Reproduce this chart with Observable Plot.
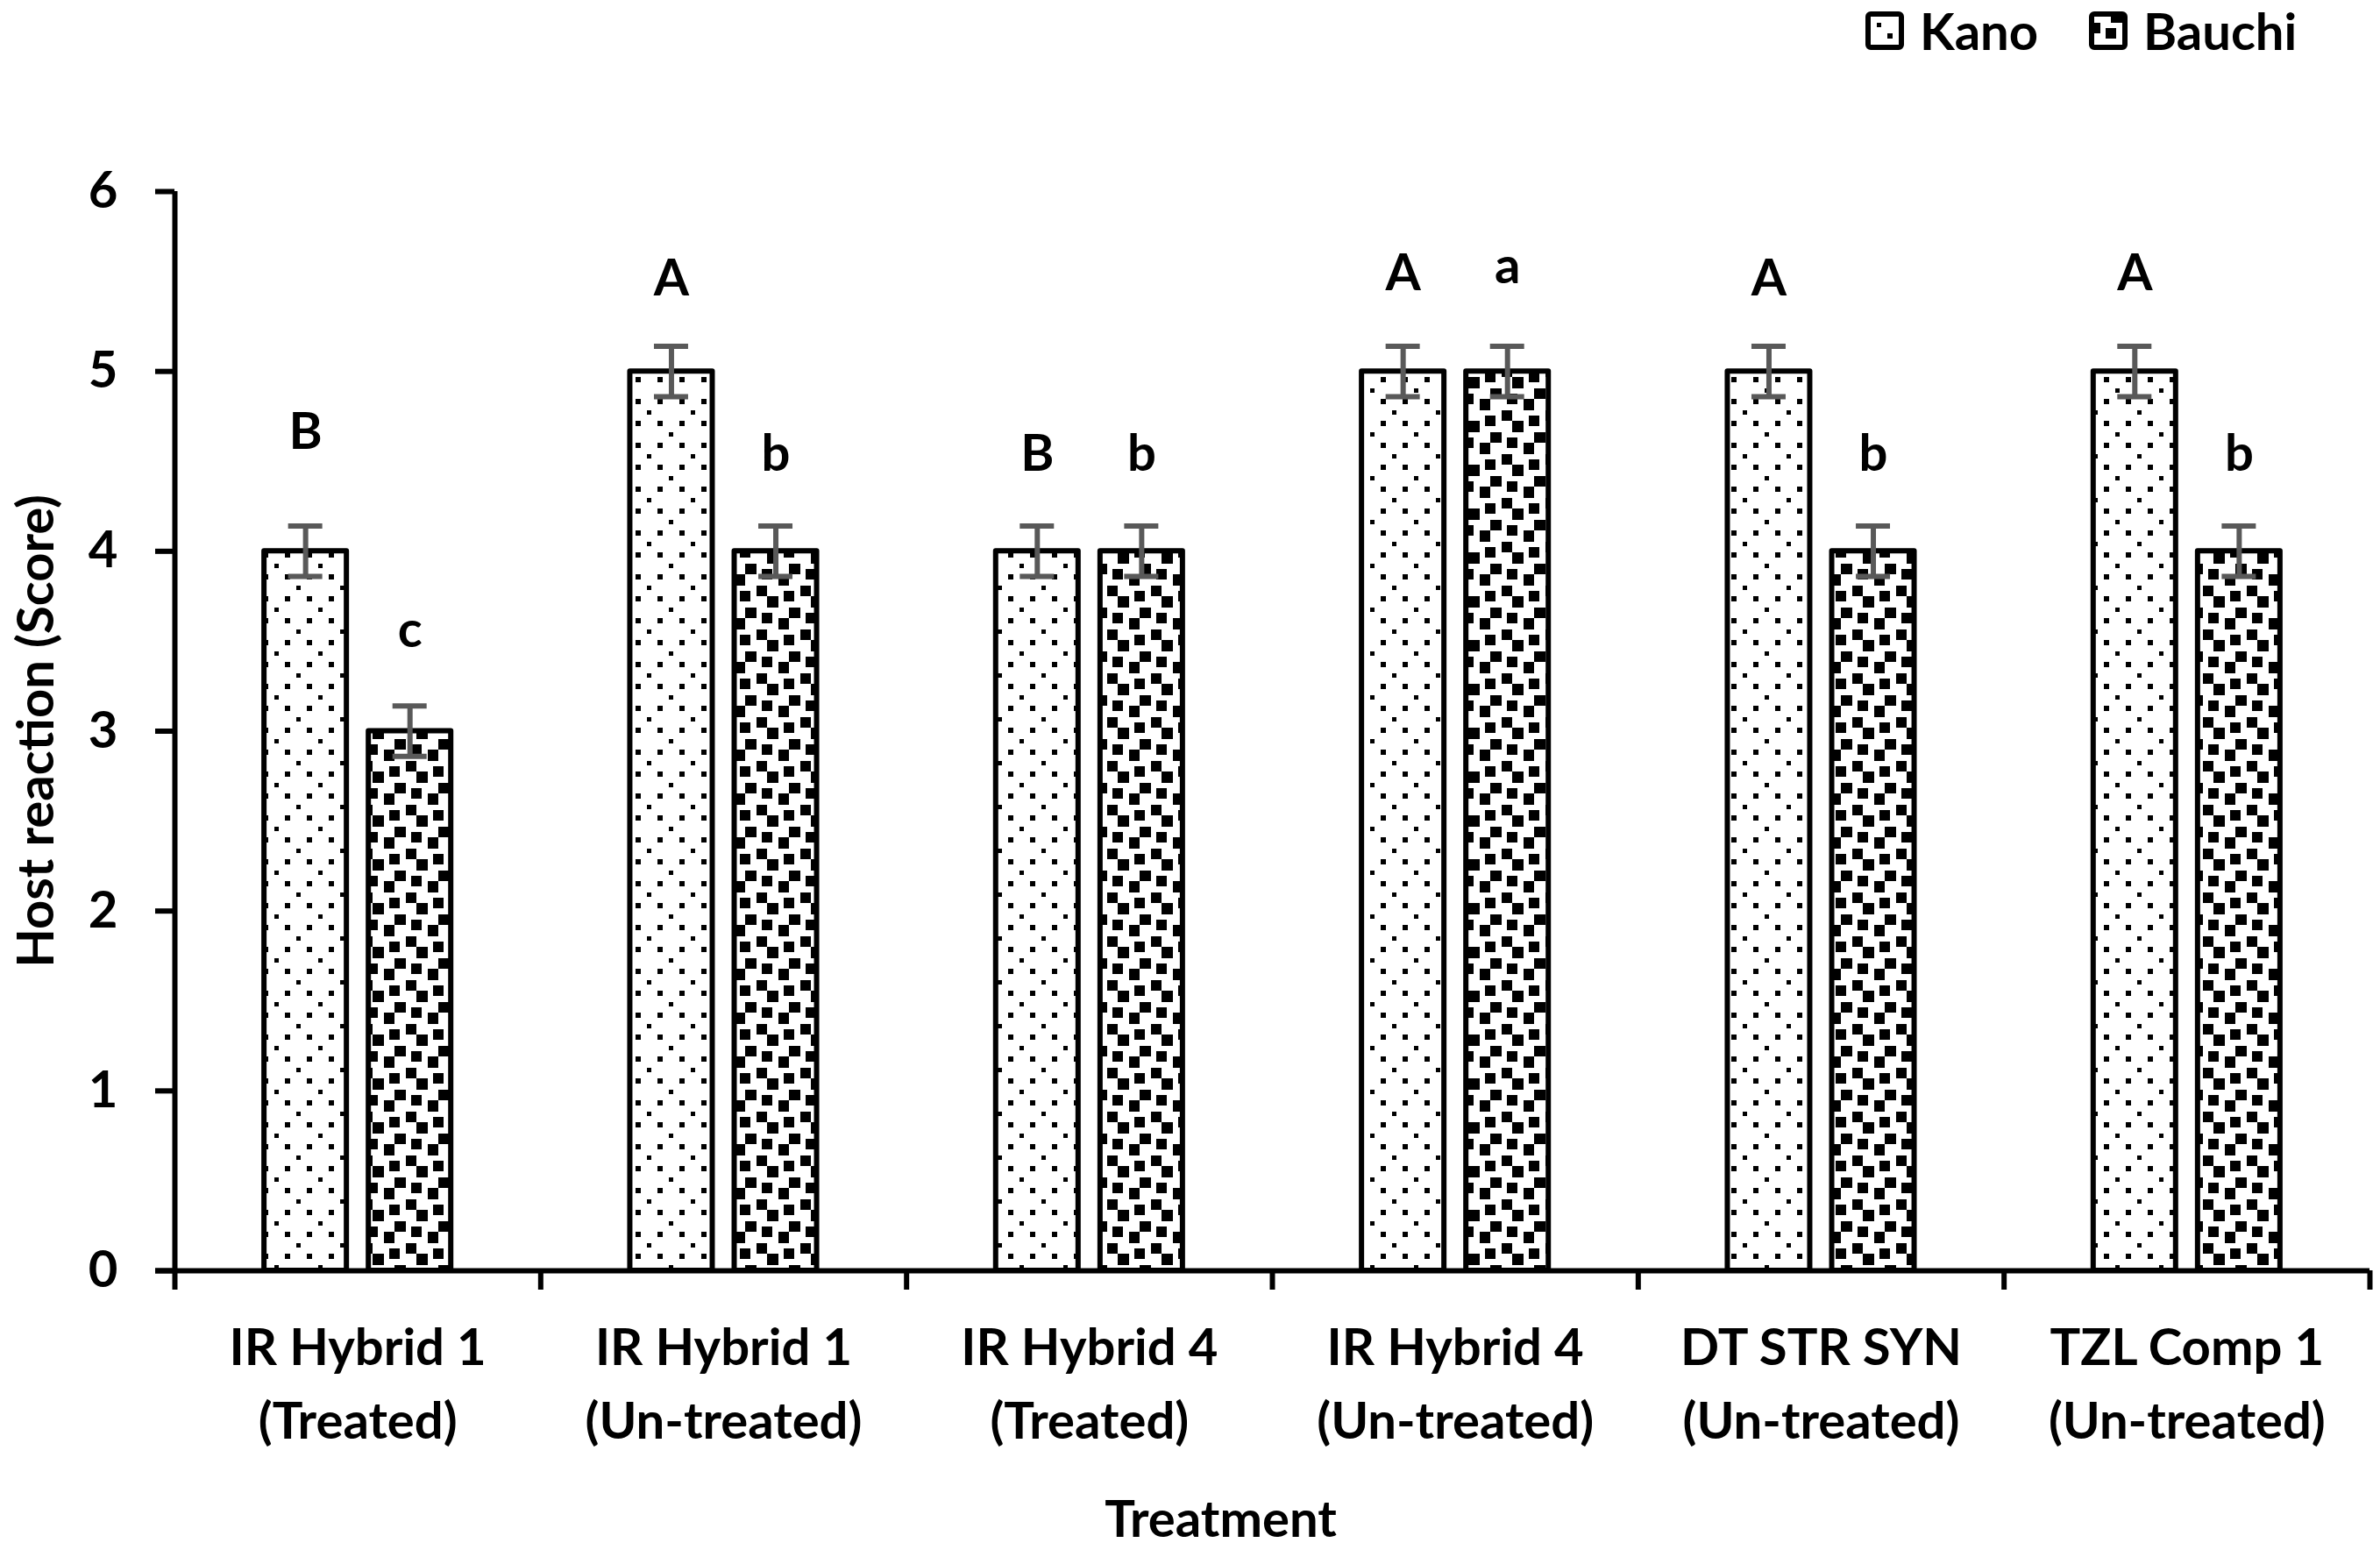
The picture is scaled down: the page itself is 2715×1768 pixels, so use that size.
<!DOCTYPE html>
<html>
<head>
<meta charset="utf-8">
<script src="https://cdn.jsdelivr.net/npm/d3@7"></script>
<script src="https://cdn.jsdelivr.net/npm/@observablehq/plot@0.6"></script>
<style>
  html, body { margin: 0; padding: 0; background: #fff; }
  body { width: 2715px; height: 1768px; overflow: hidden; font-family: Lato, "Open Sans", sans-serif; font-weight: 700; color: #000; }
  #legend { position: relative; height: 80px; }
  .item { position: absolute; top: 0; height: 70px; display: flex; align-items: center; gap: 18px; font-size: 58px; line-height: 1; }
  .item svg { display: block; }
</style>
</head>
<body>
<svg id="patterns" width="0" height="0" style="position:absolute;left:0;top:0"><defs></defs></svg>
<div id="legend"></div>
<div id="chart"></div>
<script>
// ---- data ----
const treatments = [
  "IR Hybrid 1\n(Treated)",
  "IR Hybrid 1\n(Un-treated)",
  "IR Hybrid 4\n(Treated)",
  "IR Hybrid 4\n(Un-treated)",
  "DT STR SYN\n(Un-treated)",
  "TZL Comp 1\n(Un-treated)"
];
const locations = ["Kano", "Bauchi"];
const kanoValues   = [4, 5, 4, 5, 5, 5];
const bauchiValues = [3, 4, 4, 5, 4, 4];
const kanoErrors   = [0.14, 0.14, 0.14, 0.14, 0.14, 0.14];
const bauchiErrors = [0.14, 0.14, 0.14, 0.14, 0.14, 0.14];
const kanoLetters   = ["B", "A", "B", "A", "A", "A"];
const bauchiLetters = ["c", "b", "b", "a", "b", "b"];
// letter baselines, in score units
const kanoLetterY   = [4.57, 5.42, 4.45, 5.45, 5.42, 5.45];
const bauchiLetterY = [3.47, 4.45, 4.45, 5.49, 4.45, 4.45];
const yTicks = [0, 1, 2, 3, 4, 5, 6];
const yTitle = "Host reaction (Score)";
const xTitle = "Treatment";

// ---- styling / layout constants ----
const FONT = 58;
const UNIT = 6.25;
const patternBits = {
  Kano:   [0x88, 0x00, 0x20, 0x00, 0x88, 0x00, 0x02, 0x00],
  Bauchi: [0x8d, 0x0c, 0xc0, 0xd8, 0x1b, 0x03, 0x30, 0xb1]
};
const dotSize = {Kano: 5.5, Bauchi: UNIT};
const GAP = 0.03;      // half gap between paired bars (band units)
const BARW = 0.2253;   // bar width (band units)
const CAP = 0.0467;    // half error cap width (band units)

// ---- patterns ----
const defs = d3.select("#patterns defs");
for (const loc of locations) {
  const p = defs.append("pattern").attr("id", "pat-" + loc)
    .attr("patternUnits", "userSpaceOnUse")
    .attr("width", 8 * UNIT).attr("height", 8 * UNIT);
  p.append("rect").attr("width", 8 * UNIT).attr("height", 8 * UNIT).attr("fill", "#fff");
  patternBits[loc].forEach((b, r) => {
    for (let c = 0; c < 8; c++) if (b & (0x80 >> c)) {
      p.append("rect").attr("x", c * UNIT).attr("y", r * UNIT)
        .attr("width", dotSize[loc]).attr("height", dotSize[loc])
        .attr("fill", "#000").attr("shape-rendering", "crispEdges");
    }
  });
}

// ---- legend ----
const legend = d3.select("#legend");
const legendLeft = {Kano: 2128, Bauchi: 2383};
for (const loc of locations) {
  const it = legend.append("div").attr("class", "item").style("left", legendLeft[loc] + "px");
  const s = it.append("svg").attr("width", 44).attr("height", 44);
  s.append("rect").attr("x", 3).attr("y", 3).attr("width", 38).attr("height", 38).attr("rx", 3)
    .attr("fill", `url(#pat-${loc})`).attr("stroke", "#000").attr("stroke-width", 6);
  it.append("span").text(loc);
}

// ---- rows ----
const rows = [];
treatments.forEach((t, i) => {
  rows.push({i, loc: "Kano", side: -1, value: kanoValues[i], err: kanoErrors[i], letter: kanoLetters[i], ly: kanoLetterY[i]});
  rows.push({i, loc: "Bauchi", side: 1, value: bauchiValues[i], err: bauchiErrors[i], letter: bauchiLetters[i], ly: bauchiLetterY[i]});
});
const inner = d => d.i + 0.5 + d.side * GAP;
const outer = d => d.i + 0.5 + d.side * (GAP + BARW);
const center = d => d.i + 0.5 + d.side * (GAP + BARW / 2);

const chart = Plot.plot({
  width: 2715,
  height: 1688,
  marginLeft: 199,
  marginRight: 12,
  marginTop: 138,
  marginBottom: 319,
  style: {fontFamily: "Lato, 'Open Sans', sans-serif", fontWeight: 700, color: "#000", background: "#fff", overflow: "visible"},
  x: {domain: [0, treatments.length]},
  y: {domain: [0, 6]},
  marks: [
    ...locations.map(loc => Plot.rectY(rows.filter(d => d.loc === loc), {
      x1: inner, x2: outer, y1: 0, y2: "value",
      fill: `url(#pat-${loc})`, stroke: "#000", strokeWidth: 6, strokeLinejoin: "round"
    })),
    Plot.ruleX(rows, {x: center, y1: d => d.value - d.err, y2: d => d.value + d.err, stroke: "#595959", strokeWidth: 6}),
    Plot.ruleY(rows, {y: d => d.value + d.err, x1: d => center(d) - CAP, x2: d => center(d) + CAP, stroke: "#595959", strokeWidth: 6}),
    Plot.ruleY(rows, {y: d => d.value - d.err, x1: d => center(d) - CAP, x2: d => center(d) + CAP, stroke: "#595959", strokeWidth: 6}),
    Plot.text(rows, {x: center, y: "ly", text: "letter", fontSize: FONT, fontWeight: 700, lineAnchor: "middle", dy: -0.32 * FONT, fill: "#000"}),
    Plot.ruleY([0], {stroke: "#000", strokeWidth: 6, insetLeft: -22}),
    Plot.ruleX([0], {stroke: "#000", strokeWidth: 6}),
    Plot.axisY({ticks: yTicks, tickSize: 22, tickPadding: 43, fontSize: FONT, strokeWidth: 6, label: null, tickFormat: d => String(d)}),
    Plot.axisX({ticks: d3.range(0, treatments.length + 1), tickSize: 22, strokeWidth: 6, tickFormat: () => "", label: null}),
    Plot.axisX({ticks: treatments.map((t, i) => i + 0.5), tickSize: 0, tickPadding: 48, fontSize: FONT, lineHeight: 1.45,
      tickFormat: d => treatments[Math.floor(d)], label: null}),
    Plot.text([yTitle], {text: d => d, frameAnchor: "left", rotate: -90, dx: -157, fontSize: FONT, fontWeight: 700, lineAnchor: "middle", textAnchor: "middle", fill: "#000"}),
    Plot.text([xTitle], {text: d => d, frameAnchor: "bottom", lineAnchor: "top", dx: -59, dy: 262, fontSize: FONT, fontWeight: 700, fill: "#000"})
  ]
});
document.getElementById("chart").appendChild(chart);
</script>
</body>
</html>
